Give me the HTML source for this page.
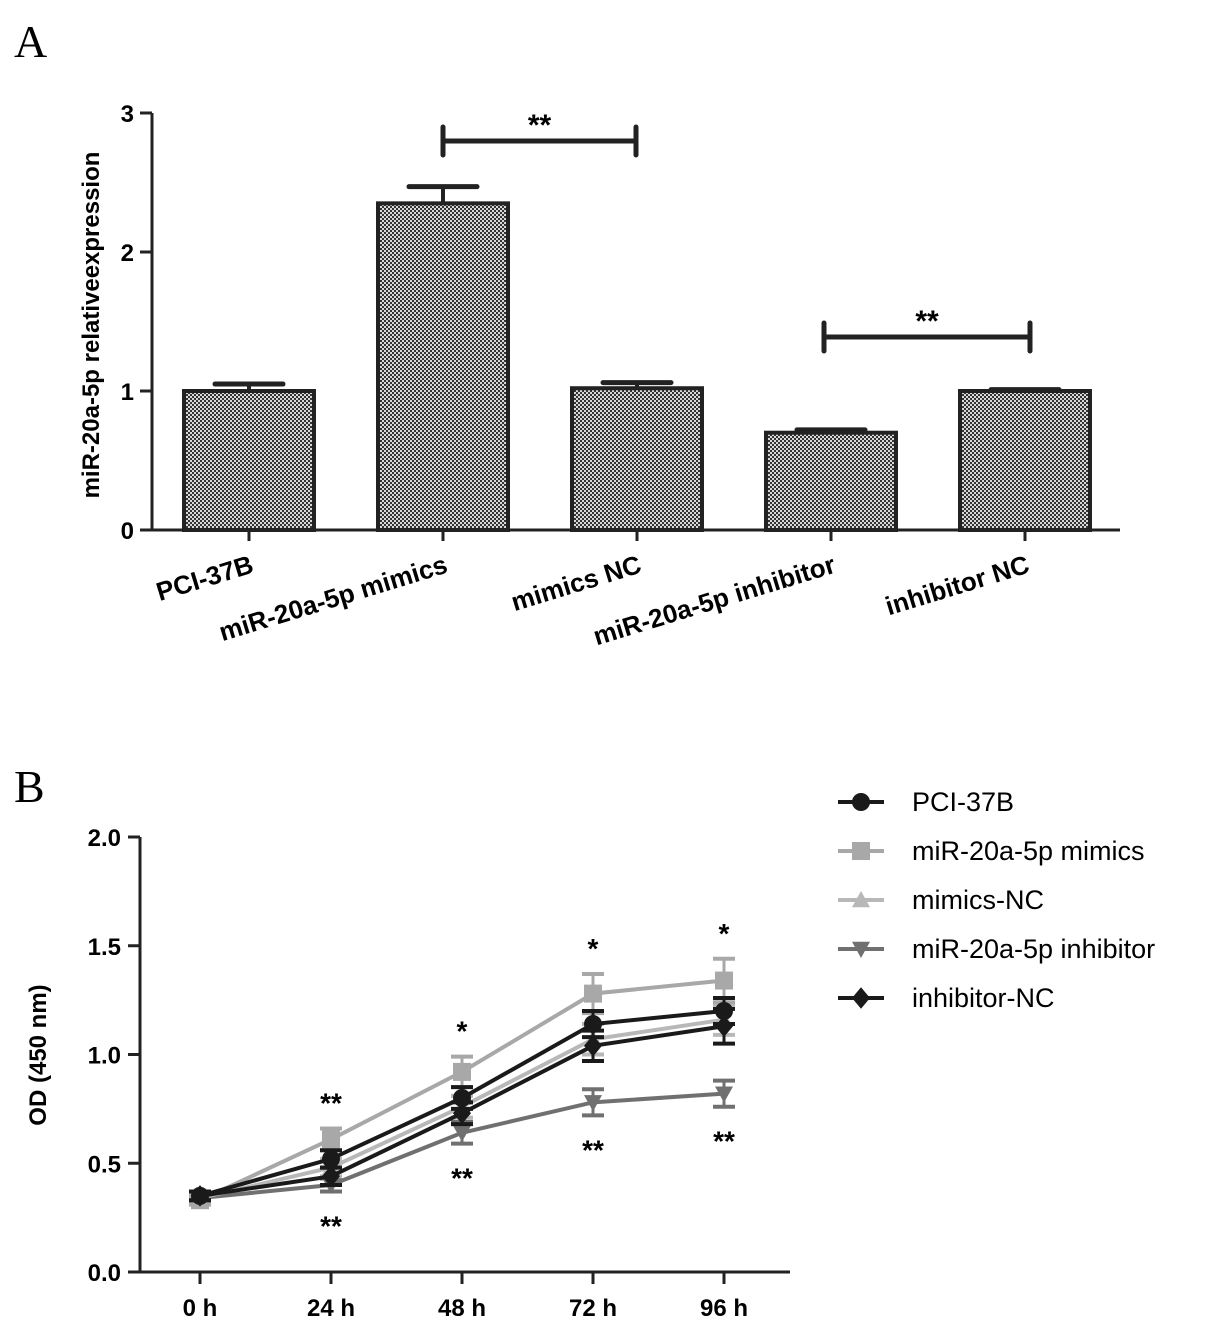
<!DOCTYPE html>
<html><head><meta charset="utf-8"><style>
body{margin:0;background:#fff;}
svg{display:block;font-family:"Liberation Sans",Arial,sans-serif;}
</style></head><body>
<svg id="c" width="1205" height="1329" viewBox="0 0 1205 1329" xmlns="http://www.w3.org/2000/svg">
<defs>
<pattern id="dots" width="4" height="4" patternUnits="userSpaceOnUse">
<rect width="4" height="4" fill="#d8d8d8"/>
<rect x="0" y="0" width="2" height="2" fill="#333"/>
<rect x="2" y="2" width="2" height="2" fill="#333"/>
</pattern>
</defs>
<text x="14" y="57" font-family="Liberation Serif,serif" font-size="46">A</text>
<text x="14" y="802" font-family="Liberation Serif,serif" font-size="46">B</text>
<g id="ga"></g>
<g id="gb"></g>
</svg>
<script>
const NS="http://www.w3.org/2000/svg";
function mk(p,t,a,txt){const e=document.createElementNS(NS,t);for(const k in a)e.setAttribute(k,a[k]);if(txt!==undefined)e.textContent=txt;p.appendChild(e);return e;}

// Panel A data
const catsA=["PCI-37B","miR-20a-5p mimics","mimics NC","miR-20a-5p inhibitor","inhibitor  NC"];
const valsA=[1.0,2.35,1.02,0.70,1.0];
const errsA=[0.05,0.12,0.04,0.02,0.01];
const ticksA=[0,1,2,3];

// Panel B data
const timesB=["0 h","24 h","48 h","72 h","96 h"];
const namesB=["PCI-37B","miR-20a-5p mimics"," mimics-NC","miR-20a-5p inhibitor"," inhibitor-NC"];
const pci=[0.35,0.52,0.80,1.14,1.20];
const mimics=[0.33,0.61,0.92,1.28,1.34];
const mimicsNC=[0.34,0.48,0.76,1.07,1.16];
const inhib=[0.34,0.40,0.64,0.78,0.82];
const inhibNC=[0.35,0.44,0.73,1.04,1.13];
const errPci=[0.02,0.04,0.05,0.06,0.06];
const errMim=[0.02,0.05,0.07,0.09,0.10];
const errMNC=[0.02,0.04,0.05,0.07,0.07];
const errInh=[0.02,0.03,0.05,0.06,0.06];
const errINC=[0.02,0.04,0.05,0.07,0.08];
const ticksB=[0,0.5,1.0,1.5,2.0];

// ---- Panel A
const ga=document.getElementById('ga');
const yA=v=>530-v*139;
const xA=i=>249+i*194;
let ax=mk(ga,'path',{d:`M152 113 L152 530 L1120 530`,stroke:'#222','stroke-width':3,fill:'none'});

ticksA.forEach(t=>{
 mk(ga,'line',{x1:140,x2:152,y1:yA(t),y2:yA(t),stroke:'#222','stroke-width':3});
 const l=mk(ga,'text',{x:134,y:yA(t)+9,'text-anchor':'end','font-size':24,'font-weight':'bold'},t);
 
});
const yt=mk(ga,'text',{transform:'translate(99,325) rotate(-90)','text-anchor':'middle','font-size':24,'font-weight':'bold'},'miR-20a-5p relativeexpression');

catsA.forEach((c,i)=>{
 const x=xA(i);
 const b=mk(ga,'rect',{x:x-65,y:yA(valsA[i]),width:130,height:530-yA(valsA[i]),fill:'url(#dots)',stroke:'#222','stroke-width':4});
 
 const ye=yA(valsA[i]+errsA[i]);
 mk(ga,'line',{x1:x,x2:x,y1:yA(valsA[i]),y2:ye,stroke:'#222','stroke-width':4});
 mk(ga,'line',{x1:x-34,x2:x+34,y1:ye,y2:ye,stroke:'#222','stroke-width':5,'stroke-linecap':'round'});
 mk(ga,'line',{x1:x,x2:x,y1:530,y2:541,stroke:'#222','stroke-width':3});
 const l=mk(ga,'text',{transform:`translate(${x+6},572) rotate(-17)`,'text-anchor':'end','font-size':26,'font-weight':'bold','xml:space':'preserve'},c);
 
});
function sig(g,x1,x2,y){
 mk(g,'line',{x1:x1,x2:x2,y1:y,y2:y,stroke:'#222','stroke-width':5});
 mk(g,'line',{x1:x1,x2:x1,y1:y-14,y2:y+14,stroke:'#222','stroke-width':5,'stroke-linecap':'round'});
 mk(g,'line',{x1:x2,x2:x2,y1:y-14,y2:y+14,stroke:'#222','stroke-width':5,'stroke-linecap':'round'});
 const s=mk(g,'text',{x:(x1+x2)/2,y:y-6,'text-anchor':'middle','font-size':30,'font-weight':'bold'},'**');
 
}
sig(ga,443,636,141);sig(ga,824,1030,337);

// ---- Panel B
const gb=document.getElementById('gb');
const yB=v=>1272-v*217.5;
const xB=i=>200+i*131;
mk(gb,'path',{d:`M140 837 L140 1272 L790 1272`,stroke:'#222','stroke-width':3,fill:'none'});
ticksB.forEach(t=>{
 mk(gb,'line',{x1:128,x2:140,y1:yB(t),y2:yB(t),stroke:'#222','stroke-width':3});
 const l=mk(gb,'text',{x:121,y:yB(t)+9,'text-anchor':'end','font-size':24,'font-weight':'bold'},t.toFixed(1));
 
});
timesB.forEach((t,i)=>{
 mk(gb,'line',{x1:xB(i),x2:xB(i),y1:1272,y2:1284,stroke:'#222','stroke-width':3});
 const l=mk(gb,'text',{x:xB(i),y:1316,'text-anchor':'middle','font-size':24,'font-weight':'bold'},t);
 
});
const ytb=mk(gb,'text',{transform:'translate(46,1055) rotate(-90)','text-anchor':'middle','font-size':24,'font-weight':'bold'},'OD (450 nm)');


const series=[
 {v:pci,e:errPci,c:'#1a1a1a',m:'circle'},
 {v:mimics,e:errMim,c:'#a8a8a8',m:'square'},
 {v:mimicsNC,e:errMNC,c:'#b8b8b8',m:'tri'},
 {v:inhib,e:errInh,c:'#707070',m:'tridown'},
 {v:inhibNC,e:errINC,c:'#1a1a1a',m:'diamond'}];
function marker(g,m,x,y,c,s){
 s=s||9;
 if(m==='circle')return mk(g,'circle',{cx:x,cy:y,r:s,fill:c});
 if(m==='square')return mk(g,'rect',{x:x-s,y:y-s,width:2*s,height:2*s,fill:c});
 if(m==='tri')return mk(g,'polygon',{points:`${x},${y-s} ${x+s},${y+s*0.8} ${x-s},${y+s*0.8}`,fill:c});
 if(m==='tridown')return mk(g,'polygon',{points:`${x},${y+s} ${x+s},${y-s*0.8} ${x-s},${y-s*0.8}`,fill:c});
 return mk(g,'polygon',{points:`${x},${y-s*1.2} ${x+s},${y} ${x},${y+s*1.2} ${x-s},${y}`,fill:c});
}
[3,2,1,0,4].forEach(k=>{
 const s=series[k];
 const line=mk(gb,'polyline',{points:s.v.map((v,i)=>xB(i)+','+yB(v)).join(' '),fill:'none',stroke:s.c,'stroke-width':4});
 
 s.v.forEach((v,i)=>{
  const x=xB(i),y1=yB(v+s.e[i]),y2=yB(v-s.e[i]);
  mk(gb,'line',{x1:x,x2:x,y1:y1,y2:y2,stroke:s.c,'stroke-width':3});
  mk(gb,'line',{x1:x-11,x2:x+11,y1:y1,y2:y1,stroke:s.c,'stroke-width':4});
  mk(gb,'line',{x1:x-11,x2:x+11,y1:y2,y2:y2,stroke:s.c,'stroke-width':4});
  const p=marker(gb,s.m,x,yB(v),s.c);
  
 });
});
const starsTop=[null,'**','*','*','*'];
const starsBot=[null,'**','**','**','**'];
[1,2,3,4].forEach(i=>{
 const a=mk(gb,'text',{x:xB(i),y:yB(mimics[i]+errMim[i])-16,'text-anchor':'middle','font-size':28,'font-weight':'bold'},starsTop[i]);
 
 const b=mk(gb,'text',{x:xB(i),y:yB(inhib[i]-errInh[i])+44,'text-anchor':'middle','font-size':28,'font-weight':'bold'},starsBot[i]);
 
});
// legend
namesB.forEach((n,k)=>{
 const y=802+k*49;
 const s=series[k];
 const g=mk(gb,'g',{});
 
 mk(g,'line',{x1:838,x2:884,y1:y,y2:y,stroke:s.c,'stroke-width':4});
 marker(g,s.m,861,y,s.c);
 mk(g,'text',{x:912,y:y+9,'font-size':27,'xml:space':'preserve'},n);
});
</script>
</body></html>
